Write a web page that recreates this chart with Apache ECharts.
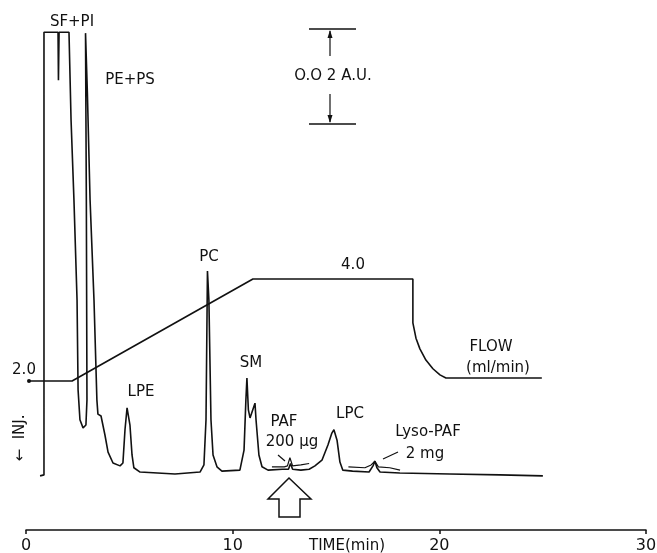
<!DOCTYPE html>
<html>
<head>
<meta charset="utf-8">
<script src="https://cdn.jsdelivr.net/npm/echarts@6/dist/echarts.min.js"></script>
<style>
  html, body { margin: 0; padding: 0; background: #fff; }
  #chart { width: 657px; height: 553px; }
</style>
</head>
<body>
<div id="chart"></div>
<script>
// detector trace, time in min, absorbance in mAU (0.02 A.U. = 20 mAU)
var traceTime = [0.68, 0.87, 0.87, 1.55, 1.57, 1.60, 2.08, 2.18, 2.32, 2.47, 2.52, 2.61, 2.76, 2.90, 2.95,
  2.92, 2.88, 2.90, 2.97, 3.10, 3.29, 3.43, 3.48, 3.63, 3.68, 3.82, 3.97, 4.21, 4.55, 4.69, 4.79, 4.89, 4.93,
  5.03, 5.13, 5.22, 5.52, 7.21, 8.42, 8.61, 8.71, 8.78, 8.85, 8.95, 9.05, 9.24, 9.48, 10.35, 10.55, 10.64,
  10.69, 10.76, 10.84, 11.08, 11.13, 11.27, 11.42, 11.71, 12.40, 12.70, 12.80, 12.90, 13.30, 13.70, 13.98,
  14.32, 14.61, 14.80, 14.90, 15.05, 15.19, 15.33, 15.80, 16.60, 16.79, 16.88, 16.98, 17.13, 18.09, 20.50,
  22.93, 25.01];
var traceAbs = [-0.6, -0.4, 92.8, 92.8, 82.7, 92.8, 92.8, 74.3, 57.5, 36.4, 17.5, 11.2, 9.5, 10.1, 15.4,
  57.5, 92.6, 92.6, 80.0, 57.5, 36.4, 15.4, 12.4, 12.0, 12.2, 8.0, 4.4, 2.1, 1.5, 2.1, 9.1, 13.7, 14.1,
  10.1, 3.8, 1.1, 0.2, -0.2, 0.2, 1.7, 11.2, 42.5, 36.4, 11.2, 3.8, 1.3, 0.4, 0.6, 4.8, 15.4,
  20.0, 13.3, 11.6, 14.7, 11.2, 3.8, 1.3, 0.6, 0.8, 0.8, 2.0, 0.8, 0.6, 0.8, 1.5,
  2.7, 5.9, 8.4, 9.1, 6.9, 2.3, 0.6, 0.4, 0.2, 1.5, 2.5, 1.1, 0.2, 0.0, -0.2,
  -0.4, -0.6];
// second run (PAF / Lyso-PAF standards) drawn over the baseline
var overTime = [11.90, 12.50, 12.65, 12.77, 12.90, 13.30, 13.70];
var overAbs = [1.3, 1.3, 1.5, 3.2, 1.5, 1.7, 2.0];
var over2Time = [15.60, 16.40, 16.70, 16.88, 17.05, 17.60, 18.10];
var over2Abs = [1.3, 1.1, 1.7, 2.5, 1.3, 1.1, 0.6];
// flow programme, ml/min
var flowTime = [0.15, 2.23, 10.98, 18.72, 18.72, 18.87, 19.06, 19.35, 19.69, 20.03, 20.32, 24.96];
var flowRate = [2.0, 2.0, 4.0, 4.0, 3.14, 2.84, 2.63, 2.41, 2.24, 2.12, 2.06, 2.06];
var timeTicks = [0, 10, 20, 30];

function pairs(a, b) {
  var res = [];
  a.forEach(function (v, i) { res.push([v, b[i]]); });
  return res;
}

function txt(x, y, s, size, align) {
  return {
    type: 'text', x: x, y: y, z: 10,
    style: {
      text: s, fill: '#111',
      font: (size || 15) + 'px "DejaVu Sans", sans-serif',
      textAlign: align || 'center', textVerticalAlign: 'middle'
    }
  };
}
function seg(x1, y1, x2, y2, w) {
  return { type: 'line', z: 10, shape: { x1: x1, y1: y1, x2: x2, y2: y2 },
    style: { stroke: '#111', lineWidth: w || 1.5 } };
}

var chart = echarts.init(document.getElementById('chart'));
var option = {
  backgroundColor: '#fff',
  animation: false,
  grid: { left: 26, right: 11, top: 32, bottom: 23, containLabel: false, outerBoundsMode: 'none' },
  xAxis: {
    type: 'value', min: timeTicks[0], max: timeTicks[timeTicks.length - 1], interval: 10,
    splitLine: { show: false },
    axisLine: { onZero: false, lineStyle: { color: '#111', width: 1.5 } },
    axisTick: { length: 4, lineStyle: { color: '#111', width: 1.5 } },
    axisLabel: { color: '#111', fontSize: 16, fontFamily: 'DejaVu Sans', margin: 8 },
    name: 'TIME(min)', nameLocation: 'middle', nameGap: 9, nameMoveOverlap: false,
    nameTextStyle: { color: '#111', fontSize: 15, fontFamily: 'DejaVu Sans', padding: [0, 0, 0, 22], verticalAlign: 'top' }
  },
  yAxis: [
    { type: 'value', min: -12, max: 92.84, show: false, splitLine: { show: false } },
    { type: 'value', min: -0.9216, max: 8.843, show: false, splitLine: { show: false } }
  ],
  series: [
    {
      name: 'trace', type: 'line', yAxisIndex: 0, data: pairs(traceTime, traceAbs),
      showSymbol: false, clip: false, lineStyle: { color: '#111', width: 1.6 }
    },
    {
      name: 'PAF', type: 'line', yAxisIndex: 0, data: pairs(overTime, overAbs),
      showSymbol: false, clip: false, lineStyle: { color: '#111', width: 1.2 }
    },
    {
      name: 'Lyso-PAF', type: 'line', yAxisIndex: 0, data: pairs(over2Time, over2Abs),
      showSymbol: false, clip: false, lineStyle: { color: '#111', width: 1.2 }
    },
    {
      name: 'flow', type: 'line', yAxisIndex: 1, data: pairs(flowTime, flowRate),
      showSymbol: false, clip: false, lineStyle: { color: '#111', width: 1.6 }
    }
  ],
  graphic: [
    txt(72, 22, 'SF+PI'),
    txt(130, 80, 'PE+PS'),
    txt(333, 76, 'O.O 2 A.U.'),
    txt(209, 257, 'PC'),
    txt(353, 265, '4.0'),
    txt(251, 363, 'SM'),
    txt(141, 392, 'LPE'),
    txt(24, 370, '2.0'),
    txt(284, 422, 'PAF'),
    txt(292, 442, '200 μg'),
    txt(350, 414, 'LPC'),
    txt(428, 432, 'Lyso-PAF'),
    txt(425, 454, '2 mg'),
    txt(491, 347, 'FLOW'),
    txt(498, 368, '(ml/min)'),
    {
      type: 'text', x: 20, y: 438, rotation: Math.PI / 2, z: 10,
      style: { text: '←  INJ.', fill: '#111', font: '15px "DejaVu Sans", sans-serif',
        textAlign: 'center', textVerticalAlign: 'middle' }
    },
    // scale bar 0.02 A.U.
    seg(309, 29, 356, 29),
    seg(309, 124, 356, 124),
    seg(330, 31, 330, 56, 1.2),
    seg(330, 94, 330, 122, 1.2),
    { type: 'polygon', z: 10, shape: { points: [[330, 30], [327.5, 38], [332.5, 38]] }, style: { fill: '#111' } },
    { type: 'polygon', z: 10, shape: { points: [[330, 123], [327.5, 115], [332.5, 115]] }, style: { fill: '#111' } },
    // leader lines
    seg(278, 455, 285, 461, 1.2),
    seg(383, 459, 398, 452, 1.2),
    // injection arrow under PAF
    {
      type: 'polygon', z: 10,
      shape: { points: [[289, 478], [268, 499], [279, 499], [279, 517], [300, 517], [300, 499], [311, 499]] },
      style: { fill: '#fff', stroke: '#111', lineWidth: 1.5 }
    },
    // dot at start of flow line
    { type: 'circle', z: 10, shape: { cx: 29, cy: 381, r: 2 }, style: { fill: '#111' } }
  ]
};
chart.setOption(option);
</script>
</body>
</html>
